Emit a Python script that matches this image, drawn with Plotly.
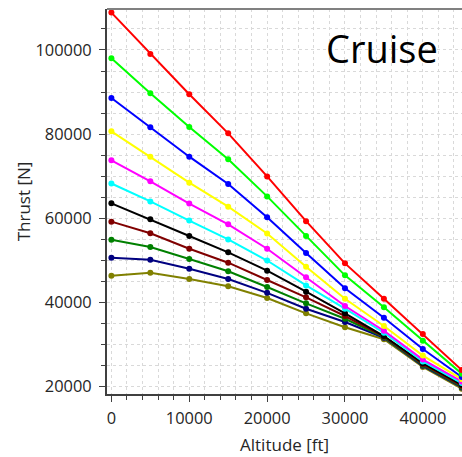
import plotly.graph_objects as go

altitude = [0, 5000, 10000, 15000, 20000, 25000, 30000, 35000, 40000, 45000]

thrust_red = [108900, 99050, 89450, 80160, 69900, 59250, 49200, 40800, 32380, 23800]
thrust_lime = [98020, 89690, 81670, 73980, 65150, 55710, 46350, 38740, 30750, 22950]
thrust_blue = [88570, 81590, 74600, 68100, 60170, 51670, 43260, 36260, 28800, 22150]
thrust_yellow = [80640, 74600, 68410, 62700, 56300, 48410, 40790, 34290, 27250, 21650]
thrust_magenta = [73740, 68740, 63450, 58500, 52690, 45880, 39050, 33170, 26300, 21100]
thrust_cyan = [68220, 63950, 59400, 54900, 49880, 43950, 38400, 32690, 25850, 20700]
thrust_black = [63500, 59690, 55710, 51830, 47450, 42450, 37300, 31900, 25450, 20300]
thrust_maroon = [59130, 56360, 52690, 49360, 45240, 41120, 36670, 31780, 25200, 20050]
thrust_green = [54830, 53100, 50240, 47310, 43580, 39690, 36020, 31650, 25000, 19850]
thrust_navy = [50550, 50070, 47930, 45480, 42180, 38410, 35240, 31500, 24800, 19650]
thrust_olive = [46260, 46980, 45480, 43740, 40950, 37300, 33980, 31150, 24550, 19350]

series = [
    (thrust_red, "#ff0000"),
    (thrust_lime, "#00ff00"),
    (thrust_blue, "#0000ff"),
    (thrust_yellow, "#ffff00"),
    (thrust_magenta, "#ff00ff"),
    (thrust_cyan, "#00ffff"),
    (thrust_black, "#000000"),
    (thrust_maroon, "#800000"),
    (thrust_green, "#008000"),
    (thrust_navy, "#000080"),
    (thrust_olive, "#808000"),
]

FONT = "Open Sans, Noto Sans, sans-serif"

fig = go.Figure()
for ys, col in reversed(series):
    fig.add_trace(go.Scatter(
        x=altitude, y=ys, mode="lines+markers",
        line=dict(color=col, width=2),
        marker=dict(color=col, size=6),
        showlegend=False,
    ))

grid = "#d9d9d9"
fig.update_layout(
    width=462, height=457,
    margin=dict(l=107, r=0, t=9, b=63, autoexpand=False),
    paper_bgcolor="white", plot_bgcolor="white",
    font=dict(family=FONT, size=16, color="#262626"),
    xaxis=dict(
        range=[-565, 45030], tickvals=[0, 10000, 20000, 30000, 40000],
        tickformat="d", automargin=False, ticklabelstandoff=2,
        ticks="outside", ticklen=6, tickcolor="#404040", tickwidth=1,
        showline=True, linecolor="#404040", linewidth=2,
        showgrid=True, gridcolor=grid, griddash="dot", gridwidth=1,
        zeroline=False,
        minor=dict(dtick=2000, tick0=0, ticks="outside", ticklen=4, tickcolor="#404040",
                   showgrid=True, gridcolor=grid, griddash="dot"),
        tickfont=dict(size=16.4),
    ),
    yaxis=dict(
        range=[18100, 109760], tickvals=[20000, 40000, 60000, 80000, 100000],
        tickformat="d", automargin=False, ticklabelstandoff=4,
        ticks="outside", ticklen=6, tickcolor="#404040", tickwidth=1,
        showline=True, linecolor="#404040", linewidth=2,
        showgrid=True, gridcolor=grid, griddash="dot", gridwidth=1,
        zeroline=False,
        minor=dict(dtick=5000, tick0=0, ticks="outside", ticklen=4, tickcolor="#404040",
                   showgrid=True, gridcolor=grid, griddash="dot"),
        tickfont=dict(size=16.4),
        title=dict(text="Thrust [N]", font=dict(size=17), standoff=1),
    ),
    shapes=[dict(type="line", xref="paper", yref="paper", x0=0, x1=1, y0=1, y1=1,
                 line=dict(color="#808080", width=2))],
    annotations=[
        dict(text="Cruise", xref="paper", yref="paper", x=0.775, y=0.899,
             xanchor="center", yanchor="middle", showarrow=False,
             font=dict(family=FONT, size=38, color="#000000")),
        dict(text="Altitude [ft]", xref="paper", yref="paper", x=0.5, y=-0.13,
             xanchor="center", yanchor="middle", showarrow=False,
             font=dict(family=FONT, size=17, color="#262626")),
    ],
)

fig.write_html(
    "out.html",
    config={"displayModeBar": False},
    post_script="document.body.style.margin='0px';document.body.style.overflow='hidden';",
)
